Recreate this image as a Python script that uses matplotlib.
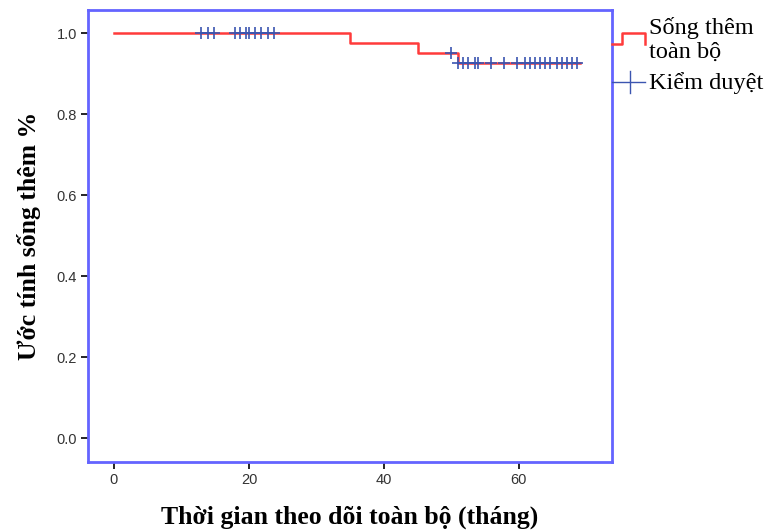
import numpy as np
import matplotlib
matplotlib.use('Agg')
import matplotlib.pyplot as plt
from matplotlib.lines import Line2D

# Kaplan-Meier curve
event_times = [0, 35, 45, 51]
surv = [1.0, 0.976, 0.952, 0.927]
end_time = 69

censor_times = [12.9, 13.9, 14.8,
                17.9, 18.7, 19.6, 20.0, 20.9, 21.8, 22.8, 23.7,
                50.0,
                51.0, 51.7, 52.5, 53.5, 54.0, 55.8, 57.8, 59.7,
                60.9, 61.6, 62.4, 63.1, 63.9, 64.6, 65.6, 66.4,
                67.1, 67.9, 68.6]

xticks = [0, 20, 40, 60]
yticks = [0.0, 0.2, 0.4, 0.6, 0.8, 1.0]

red = '#ff3b3b'
blue = '#3b55b0'
frame = '#6464ff'

fig = plt.figure(figsize=(7.7, 5.3), dpi=100)
ax = fig.add_axes([0.1143, 0.1283, 0.6805, 0.8528])

xs = event_times + [end_time]
ys = surv + [surv[-1]]
ax.step(xs, ys, where='post', color=red, lw=1.8)

idx = np.searchsorted(event_times, censor_times, side='right') - 1
cy = np.array(surv)[idx]
ax.plot(censor_times, cy, ls='none', marker='+', color=blue, ms=9, mew=1.2)

ax.set_xlim(-3.85, 73.8)
ax.set_ylim(-0.059, 1.057)
ax.set_xticks(xticks)
ax.set_yticks(yticks)
ax.set_xticklabels([str(t) for t in xticks], family='Liberation Sans', fontsize=10.5, color='#333333')
ax.set_yticklabels(['%.1f' % t for t in yticks], family='Liberation Sans', fontsize=10.5, color='#333333')
ax.tick_params(direction='out', length=5, width=1.2, color='black', pad=3)
for s in ax.spines.values():
    s.set_color(frame)
    s.set_linewidth(2)

ax.set_xlabel('Thời gian theo dõi toàn bộ (tháng)', family='Liberation Serif',
              fontweight='bold', fontsize=18.5, labelpad=13)
ax.set_ylabel('Ước tính sống thêm %', family='Liberation Serif',
              fontweight='bold', fontsize=18.5, labelpad=11)

# legend outside on the right
W, H = 770.0, 530.0
def fx(p):
    return p / W
def fy(p):
    return 1 - p / H
fig.add_artist(Line2D([fx(612), fx(622), fx(622), fx(645), fx(645)],
                      [fy(44), fy(44), fy(33), fy(33), fy(44)],
                      color=red, lw=1.8, transform=fig.transFigure))
fig.add_artist(Line2D([fx(612), fx(645)], [fy(82), fy(82)],
                      color=blue, lw=1, transform=fig.transFigure))
fig.add_artist(Line2D([fx(630), fx(630)], [fy(71), fy(93)],
                      color=blue, lw=1, transform=fig.transFigure))
fig.text(fx(649), fy(28), 'Sống thêm', family='Liberation Serif', fontsize=17.5, va='center')
fig.text(fx(649), fy(52), 'toàn bộ', family='Liberation Serif', fontsize=17.5, va='center')
fig.text(fx(649), fy(83), 'Kiểm duyệt', family='Liberation Serif', fontsize=17.5, va='center')

fig.savefig('out.png', dpi=100)
